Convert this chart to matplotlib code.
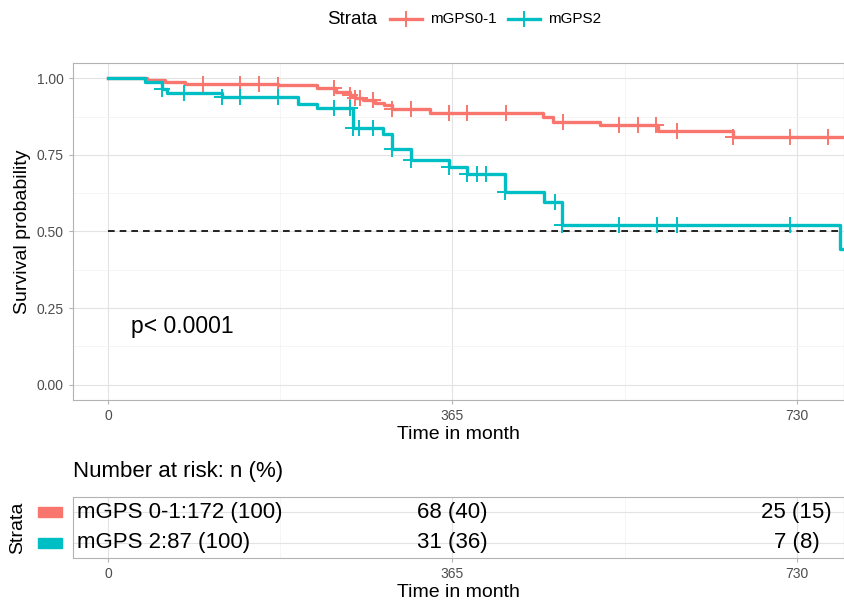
import numpy as np
import matplotlib
matplotlib.use("Agg")
import matplotlib.pyplot as plt
from matplotlib.lines import Line2D
from matplotlib.patches import Rectangle

plt.rcParams['font.family'] = ['Liberation Sans', 'DejaVu Sans']

# Kaplan-Meier steps (days, survival after the step)
red_times = [0, 41, 60, 82, 180, 221, 242, 256, 262, 270, 283, 293, 301, 341, 461, 472, 522, 583, 662]
red_surv = [1.0, 0.994, 0.988, 0.983, 0.977, 0.969, 0.956, 0.946, 0.935, 0.928, 0.920, 0.912,
            0.900, 0.887, 0.875, 0.857, 0.846, 0.828, 0.809]
red_cens = [101, 140, 160, 180, 240, 256, 262, 267, 281, 301, 321, 361, 381, 422, 482, 542, 562,
            581, 603, 662, 723, 763]

teal_times = [0, 39, 57, 62, 121, 201, 221, 260, 291, 301, 321, 361, 381, 421, 462, 481, 776]
teal_surv = [1.0, 0.989, 0.966, 0.953, 0.939, 0.916, 0.902, 0.837, 0.819, 0.769, 0.732, 0.710,
             0.688, 0.630, 0.596, 0.521, 0.444]
teal_cens = [57, 80, 121, 140, 180, 240, 256, 260, 266, 281, 301, 321, 361, 381, 391, 401, 421,
             474, 481, 542, 582, 603, 723]

groups = ['mGPS0-1', 'mGPS2']
risk_labels = ['mGPS 0-1:172 (100)', 'mGPS 2:87 (100)']
risk_365 = ['68 (40)', '31 (36)']
risk_730 = ['25 (15)', '7 (8)']
colors = ['#F8766D', '#00BFC4']
xticks = [0, 365, 730]
yticks = [0.0, 0.25, 0.5, 0.75, 1.0]
xlim = (-37.15, 780.15)

fig = plt.figure(figsize=(8.44, 6.01), dpi=100)
W, H = 844, 601


def style(ax):
    ax.set_facecolor('white')
    for s in ax.spines.values():
        s.set_color('#B3B3B3')
        s.set_linewidth(0.8)
    ax.tick_params(colors='#4D4D4D', labelsize=10, length=3, width=0.8)
    ax.tick_params(axis='both', color='#B3B3B3')
    ax.grid(True, which='major', color='#E3E3E3', linewidth=0.8)
    ax.grid(True, which='minor', color='#F2F2F2', linewidth=0.5)
    ax.set_axisbelow(True)


# main KM panel
ax = fig.add_axes([73 / W, 1 - 400 / H, (844 - 73) / W, (400 - 63) / H])
style(ax)
ax.set_xlim(*xlim)
ax.set_ylim(-0.05, 1.05)
ax.set_xticks(xticks)
ax.set_xticks([182.5, 547.5], minor=True)
ax.set_yticks(yticks)
ax.set_yticklabels(['0.00', '0.25', '0.50', '0.75', '1.00'])
ax.set_yticks([0.125, 0.375, 0.625, 0.875], minor=True)
ax.tick_params(which='minor', length=0)

ax.hlines(0.5, 0, teal_times[-1], colors='black', linestyles=(0, (4, 3)), linewidth=1.2, zorder=2)

for t, s, c, col in [(red_times, red_surv, red_cens, colors[0]),
                     (teal_times, teal_surv, teal_cens, colors[1])]:
    t = np.array(t, dtype=float)
    s = np.array(s)
    ax.step(np.append(t, 800), np.append(s, s[-1]), where='post', color=col, linewidth=2.4, zorder=3)
    idx = np.searchsorted(t, c, side='right') - 1
    ax.plot(c, s[idx], linestyle='none', marker='+', markersize=11, markeredgewidth=1.4,
            color=col, zorder=4)

ax.text(24, 0.19, 'p< 0.0001', fontsize=16.5, ha='left', va='center')
ax.set_ylabel('Survival probability', fontsize=14, labelpad=4)
ax.set_xlabel('Time in month', fontsize=14, labelpad=2)

# top legend
fig.text(352 / W, 1 - 19 / H, 'Strata', fontsize=13.5, ha='center', va='center')
for x0, col, lab in [(390, colors[0], groups[0]), (508, colors[1], groups[1])]:
    fig.add_artist(Line2D([x0 / W, (x0 + 32) / W], [1 - 19 / H] * 2, color=col, linewidth=2.4))
    fig.add_artist(Line2D([(x0 + 16) / W], [1 - 19 / H], color=col, marker='+', markersize=11,
                          markeredgewidth=1.4))
    fig.text((x0 + 40) / W, 1 - 19 / H, lab, fontsize=11, ha='left', va='center')

# risk table
rt = fig.add_axes([73 / W, 1 - 558 / H, (844 - 73) / W, (558 - 497) / H])
style(rt)
rt.set_xlim(*xlim)
rt.set_ylim(0.5, 2.5)
rt.set_xticks(xticks)
rt.set_xticks([182.5, 547.5], minor=True)
rt.set_yticks([1, 2])
rt.set_yticklabels([])
rt.tick_params(axis='y', length=0)
rt.tick_params(which='minor', length=0)
rows = [2, 1]
for i in range(2):
    rt.text(-33, rows[i], risk_labels[i], fontsize=16, ha='left', va='center')
    rt.text(365, rows[i], risk_365[i], fontsize=16, ha='center', va='center')
    rt.text(730, rows[i], risk_730[i], fontsize=16, ha='center', va='center')
rt.set_xlabel('Time in month', fontsize=14, labelpad=2)

fig.text(73 / W, 1 - 472 / H, 'Number at risk: n (%)', fontsize=16, ha='left', va='center')
fig.text(18 / W, 1 - 528 / H, 'Strata', fontsize=14, rotation=90, ha='center', va='center')
for i, y0 in enumerate([512, 543]):
    fig.add_artist(Rectangle((38 / W, 1 - (y0 + 5) / H), 24 / W, 10 / H, color=colors[i],
                             transform=fig.transFigure))

fig.savefig('out.png', dpi=100)
